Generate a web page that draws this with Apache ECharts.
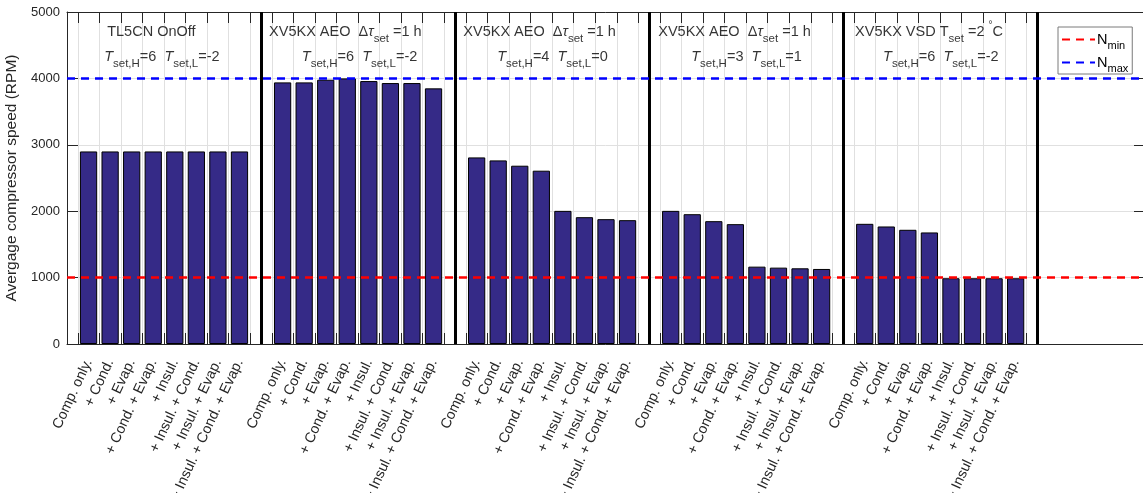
<!DOCTYPE html>
<html><head><meta charset="utf-8">
<script src="https://cdn.jsdelivr.net/npm/echarts@6/dist/echarts.min.js"></script>
<style>html,body{margin:0;padding:0;background:#fff}#c{width:1143px;height:493px}</style>
</head><body><div id="c"></div>
<script>
// ---- data ----
const categories = ['Comp. only.', '+ Cond.', '+ Evap.', '+ Cond. + Evap.', '+ Insul.', '+ Insul. + Cond.', '+ Insul. + Evap.', '+ Insul. + Cond. + Evap.'];
const tl5cnOnOff   = [2900, 2900, 2900, 2900, 2900, 2900, 2900, 2900];
const xv5kxAeoH6L2 = [3940, 3940, 3980, 4000, 3960, 3930, 3930, 3850];
const xv5kxAeoH4L0 = [2810, 2765, 2685, 2610, 2005, 1910, 1880, 1865];
const xv5kxAeoH3L1 = [2005, 1955, 1850, 1805, 1165, 1150, 1140, 1130];
const xv5kxVsdH6L2 = [1810, 1770, 1720, 1680, 990, 990, 990, 990];
const groupValues = [tl5cnOnOff, xv5kxAeoH6L2, xv5kxAeoH4L0, xv5kxAeoH3L1, xv5kxVsdH6L2];
const groupTitles = [
  '{t|TL5CN OnOff}',
  '{t|XV5KX AEO  Δ}{i|τ}{s|set}{t| =1 h}',
  '{t|XV5KX AEO  Δ}{i|τ}{s|set}{t| =1 h}',
  '{t|XV5KX AEO  Δ}{i|τ}{s|set}{t| =1 h}',
  '{t|XV5KX VSD T}{s|set}{t| =2 }{sup|°}{t|C}'
];
const groupSetpoints = [
  '{i|T}{s|set,H}{t|=6  }{i|T}{s|set,L}{t|=-2}',
  '{i|T}{s|set,H}{t|=6  }{i|T}{s|set,L}{t|=-2}',
  '{i|T}{s|set,H}{t|=4  }{i|T}{s|set,L}{t|=0}',
  '{i|T}{s|set,H}{t|=3  }{i|T}{s|set,L}{t|=1}',
  '{i|T}{s|set,H}{t|=6  }{i|T}{s|set,L}{t|=-2}'
];
const yTicks = [0, 1000, 2000, 3000, 4000, 5000];
const nMin = 1000;
const nMax = 4000;
const yAxisTitle = 'Avergage compressor speed (RPM)';

// ---- layout helpers ----
const SLOT = 9;               // 8 bars + 1 separator slot per group
const XMAX = 50;
const nG = groupValues.length;
const barData = [];
const barPos = [];
groupValues.forEach((vals, g) => vals.forEach((v, i) => {
  const p = g * SLOT + i + 1;
  barPos.push(p);
  barData.push([p, v]);
}));
const separators = groupValues.map((_, g) => g * SLOT + SLOT);
const boundaries = [];
for (let k = 0; k < nG * SLOT; k++) boundaries.push(k + 0.5);

const title1Off = [1.84, 0.35, 0.36, 0.40, 0.53];
const title2Off = [1.70, 1.87, 1.93, 1.93, 1.83];
const annot = [];
groupTitles.forEach((t, g) => annot.push({ value: [g * SLOT + title1Off[g], 4706], label: { formatter: t } }));
groupSetpoints.forEach((t, g) => annot.push({ value: [g * SLOT + title2Off[g], 4322], label: { formatter: t } }));

const FONT = 'Liberation Sans, Arial, Helvetica, sans-serif';
const AX = '#262626';
const GRID = '#e0e0e0';
const rich = {
  t: { fontSize: 14.5, lineHeight: 16, fontFamily: FONT, color: '#000' },
  i: { fontSize: 14.5, lineHeight: 16, fontFamily: FONT, color: '#000', fontStyle: 'italic' },
  s: { fontSize: 11.5, lineHeight: 12, fontFamily: FONT, color: '#000', padding: [14, 0, 0, 0] },
  sup: { fontSize: 10, lineHeight: 10, fontFamily: FONT, color: '#000', padding: [0, 0, 12, 0] }
};

const chart = echarts.init(document.getElementById('c'), null, { renderer: 'canvas' });
chart.setOption({
  animation: false,
  backgroundColor: '#fff',
  grid: { left: 67, top: 12, width: 1078, height: 332, containLabel: false, outerBoundsMode: 'none' },
  legend: {
    data: ['Nmin', 'Nmax'],
    orient: 'vertical',
    left: 1058, top: 27,
    backgroundColor: '#fff',
    borderColor: '#7a7a7a', borderWidth: 1, borderRadius: 0,
    padding: [1, 4, 0, 3],
    itemGap: 0, itemWidth: 33, itemHeight: 14,
    itemStyle: { color: 'rgba(0,0,0,0)', borderWidth: 0, opacity: 0 },
    formatter: n => n === 'Nmin' ? '{n|N}{s|min}' : '{n|N}{s|max}',
    textStyle: {
      padding: [0, 0, 0, -3],
      rich: {
        n: { fontSize: 14.5, lineHeight: 16, fontFamily: FONT, color: '#000' },
        s: { fontSize: 11, lineHeight: 12, fontFamily: FONT, color: '#000', padding: [12, 0, 0, 0] }
      }
    }
  },
  xAxis: [
    {
      type: 'value', position: 'bottom', min: 0, max: XMAX,
      axisLine: { show: true, onZero: false, lineStyle: { color: AX, width: 1 } },
      axisTick: { show: true, inside: true, length: 11, customValues: boundaries, lineStyle: { color: AX } },
      splitLine: { show: true, lineStyle: { color: GRID, width: 1 } },
      axisLabel: {
        customValues: barPos,
        formatter: v => categories[(Math.round(v) % SLOT) - 1],
        rotate: 65, margin: 16, fontSize: 14.3, color: AX, fontFamily: FONT, hideOverlap: false
      }
    },
    {
      type: 'value', position: 'top', min: 0, max: XMAX,
      axisLine: { show: true, onZero: false, lineStyle: { color: AX, width: 1 } },
      axisTick: { show: true, inside: true, length: 11, customValues: boundaries, lineStyle: { color: AX } },
      axisLabel: { show: false }, splitLine: { show: false }
    }
  ],
  yAxis: [
    {
      type: 'value', position: 'left', min: 0, max: 5000, interval: 1000,
      name: yAxisTitle, nameLocation: 'middle', nameGap: 35,
      nameTextStyle: { fontSize: 15.5, color: AX, fontFamily: FONT },
      axisLine: { show: true, onZero: false, lineStyle: { color: AX } },
      axisTick: { show: true, inside: true, length: 11, customValues: yTicks, lineStyle: { color: AX } },
      axisLabel: { customValues: yTicks, formatter: v => String(v), fontSize: 13, color: AX, margin: 7, fontFamily: FONT },
      splitLine: { show: true, lineStyle: { color: GRID, width: 1 } }
    },
    {
      type: 'value', position: 'right', min: 0, max: 5000, interval: 1000,
      axisLine: { show: true, onZero: false, lineStyle: { color: AX } },
      axisTick: { show: true, inside: true, length: 11, customValues: yTicks, lineStyle: { color: AX } },
      axisLabel: { show: false }, splitLine: { show: false }
    }
  ],
  series: [
    {
      type: 'bar', name: 'bars', xAxisIndex: 0, yAxisIndex: 0,
      data: barData, barWidth: '80%',
      itemStyle: { color: '#352a87', borderColor: '#000', borderWidth: 1 },
      silent: true, z: 2,
      markLine: {
        silent: true, symbol: ['none', 'none'], label: { show: false },
        lineStyle: { color: '#000', width: 3, type: 'solid' },
        emphasis: { disabled: true },
        data: separators.map(x => ({ xAxis: x }))
      }
    },
    {
      type: 'line', name: 'Nmin', data: [[0, nMin], [XMAX, nMin]], symbol: 'none', z: 5,
      lineStyle: { color: '#ff0000', width: 2.5, type: [8, 6] }, itemStyle: { color: '#ff0000' }, silent: true
    },
    {
      type: 'line', name: 'Nmax', data: [[0, nMax], [XMAX, nMax]], symbol: 'none', z: 5,
      lineStyle: { color: '#0000ff', width: 2.5, type: [8, 6] }, itemStyle: { color: '#0000ff' }, silent: true
    },
    {
      type: 'scatter', name: 'annot', data: annot, symbolSize: 1, silent: true, z: 6,
      itemStyle: { color: 'rgba(0,0,0,0)' },
      label: { show: true, position: 'right', distance: 0, rich: rich, fontFamily: FONT, fontSize: 14.5, color: '#000' }
    }
  ]
});
</script></body></html>
